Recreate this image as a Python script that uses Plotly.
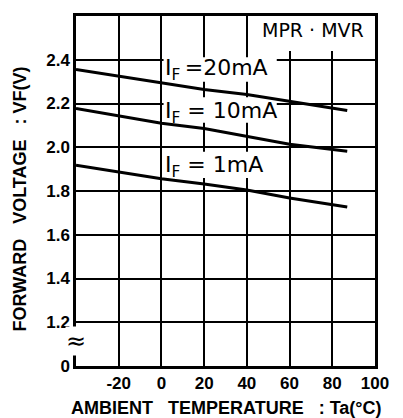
import plotly.graph_objects as go

# Data
temps = [-40, 0, 20, 40, 60, 87]
vf_20mA = [2.355, 2.295, 2.264, 2.241, 2.209, 2.168]
vf_10mA = [2.177, 2.110, 2.086, 2.050, 2.014, 1.982]
vf_1mA = [1.918, 1.856, 1.832, 1.805, 1.768, 1.727]

x_tickvals = [-20, 0, 20, 40, 60, 80, 100]
x_ticktext = ["-20", "0", "20", "40", "60", "80", "100"]
y_tickvals = [1.0, 1.2, 1.4, 1.6, 1.8, 2.0, 2.2, 2.4]
y_ticktext = ["0", "1.2", "1.4", "1.6", "1.8", "2.0", "2.2", "2.4"]

series_names = ["I<sub>F</sub>\u2009=20mA", "I<sub>F</sub> = 10mA", "I<sub>F</sub> = 1mA"]
series_vals = [vf_20mA, vf_10mA, vf_1mA]

fig = go.Figure()
for name, vals in zip(series_names, series_vals):
    fig.add_trace(go.Scatter(x=temps, y=vals, mode="lines", name=name,
                             line=dict(color="black", width=3), showlegend=False))

tickfont = dict(family="Liberation Sans, Arial", size=17, color="black", weight="bold")

fig.update_layout(
    width=395, height=410,
    margin=dict(l=68, r=28, t=5, b=52),
    paper_bgcolor="white", plot_bgcolor="white",
    xaxis=dict(range=[-40, 100], tickvals=x_tickvals, ticktext=x_ticktext,
               showgrid=True, gridcolor="black", gridwidth=2,
               showline=True, linecolor="black", linewidth=2.5, mirror=True,
               zeroline=False, ticks="", tickfont=tickfont, fixedrange=True),
    yaxis=dict(range=[1.0, 2.6], tickvals=y_tickvals, ticktext=y_ticktext,
               showgrid=True, gridcolor="black", gridwidth=2,
               showline=True, linecolor="black", linewidth=2.5, mirror=True,
               zeroline=False, ticks="", tickfont=tickfont, fixedrange=True),
)

# white patches behind labels (above gridlines, below curves)
label_boxes = [(1, 54, 2.3, 2.412), (1, 54, 2.112, 2.228), (1, 47, 1.86, 1.98), (41, 99.5, 2.44, 2.6)]
for x0, x1, y0, y1 in label_boxes:
    fig.add_shape(type="rect", xref="x", yref="y", x0=x0, x1=x1, y0=y0, y1=y1,
                  fillcolor="white", line=dict(width=0), layer="between")

label_font = dict(family="DejaVu Sans", size=22, color="black")
label_pos = [(1.0, 2.356), (1.0, 2.158), (1.0, 1.912)]
for name, (lx, ly) in zip(series_names, label_pos):
    fig.add_annotation(x=lx, y=ly, xref="x", yref="y", text=name, showarrow=False,
                       xanchor="left", yanchor="middle", font=label_font, borderpad=0)

fig.add_annotation(x=96, y=2.597, xref="x", yref="y", text="MPR · MVR", showarrow=False,
                   xanchor="right", yanchor="top",
                   font=dict(family="DejaVu Sans", size=19, color="black"),
                   borderpad=1)

# broken-axis mark
fig.add_annotation(x=-40, y=1.114, xref="x", yref="y", text="≈", showarrow=False,
                   xanchor="center", yanchor="middle",
                   font=dict(family="DejaVu Sans", size=24, color="black"),
                   bgcolor="white", borderpad=0)

title_font = dict(family="Liberation Sans, Arial", size=18, color="black", weight="bold")
fig.add_annotation(x=0.505, y=-0.119, xref="paper", yref="paper",
                   text="AMBIENT   TEMPERATURE   : Ta(°C)", showarrow=False,
                   xanchor="center", yanchor="middle", font=title_font)
fig.add_annotation(x=-0.187, y=0.476, xref="paper", yref="paper",
                   text="FORWARD   VOLTAGE   : VF(V)", showarrow=False, textangle=-90,
                   xanchor="center", yanchor="middle", font=title_font)

fig.write_html("out.html")
